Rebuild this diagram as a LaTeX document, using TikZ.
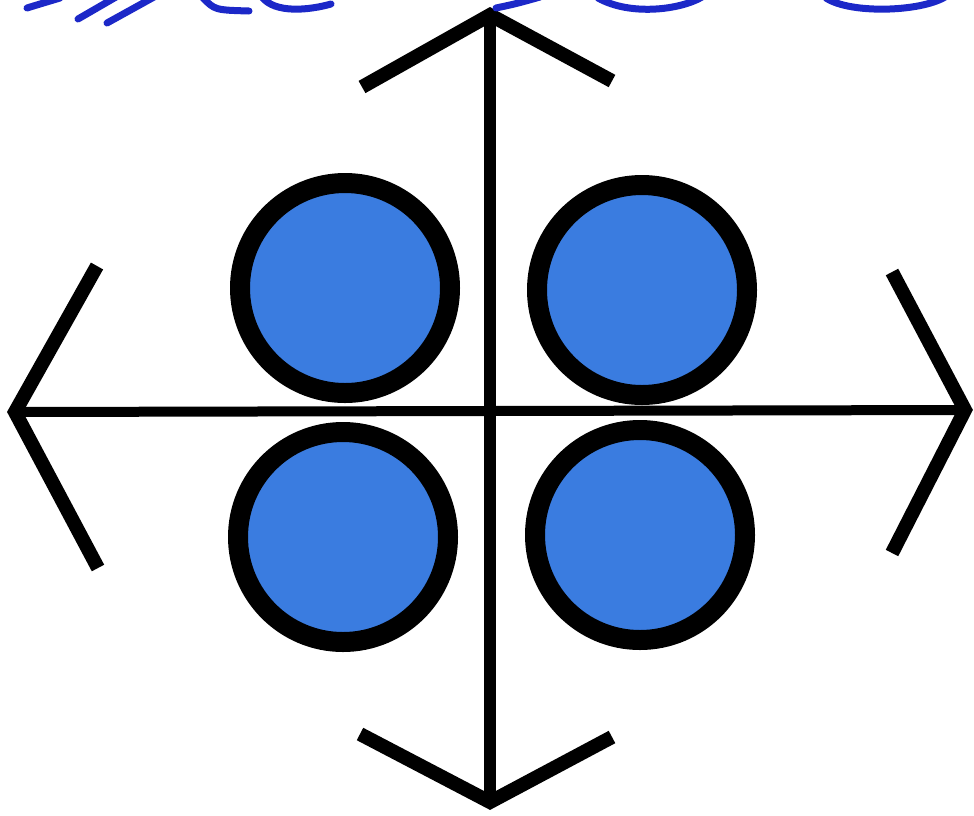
\documentclass[tikz,border=0pt]{standalone}
\definecolor{discblue}{RGB}{58,124,224}
\definecolor{inkblue}{RGB}{28,40,200}
\begin{document}
\begin{tikzpicture}[x=1pt,y=-1pt,
  shaft/.style={line width=12pt,black},
  arm/.style={line width=14pt,black,line join=miter,miter limit=20},
  disc/.style={circle,draw=black,line width=20pt,fill=discblue,minimum size=210pt,inner sep=0pt},
  scribble/.style={line width=7pt,inkblue,line cap=round}]
\useasboundingbox (0,0) rectangle (974,815);
% arrow tips and arm ends
\coordinate (T) at (490,15);
\coordinate (B) at (490,802);
\coordinate (L) at (15,412);
\coordinate (R) at (965,410);
\coordinate (Ta) at (362,87);
\coordinate (Tb) at (612,81);
\coordinate (Ba) at (360,734);
\coordinate (Bb) at (612,737);
\coordinate (La) at (97,266);
\coordinate (Lb) at (98,568);
\coordinate (Ra) at (892,272);
\coordinate (Rb) at (892,553);
% discs
\node[disc] (d1) at (345,288) {};
\node[disc] (d2) at (642,290) {};
\node[disc] (d3) at (343,537) {};
\node[disc] (d4) at (640,535) {};
% shafts
\draw[shaft] (T) -- (B);
\draw[shaft,line width=10pt] (L) -- (R);
% arrowheads
\draw[arm] (Ta) -- (T) -- (Tb);
\draw[arm] (Ba) -- (B) -- (Bb);
\draw[arm] (La) -- (L) -- (Lb);
\draw[arm] (Ra) -- (R) -- (Rb);
% blue scribbles at the top edge
\draw[scribble] (27,8) .. controls (40,4) .. (60,-2);
\draw[scribble] (78,19) -- (116,-3);
\draw[scribble] (107,23) -- (154,-3);
\draw[scribble] (203,-2) .. controls (215,10) .. (249,11);
\draw[scribble] (262,-3) .. controls (275,14) and (310,10) .. (331,4);
\draw[scribble] (496,8) .. controls (515,4) .. (540,-3);
\draw[scribble] (598,-2) .. controls (630,16) and (680,10) .. (702,-3);
\draw[scribble] (826,-2) .. controls (850,14) and (920,12) .. (945,-3);
\end{tikzpicture}
\end{document}
